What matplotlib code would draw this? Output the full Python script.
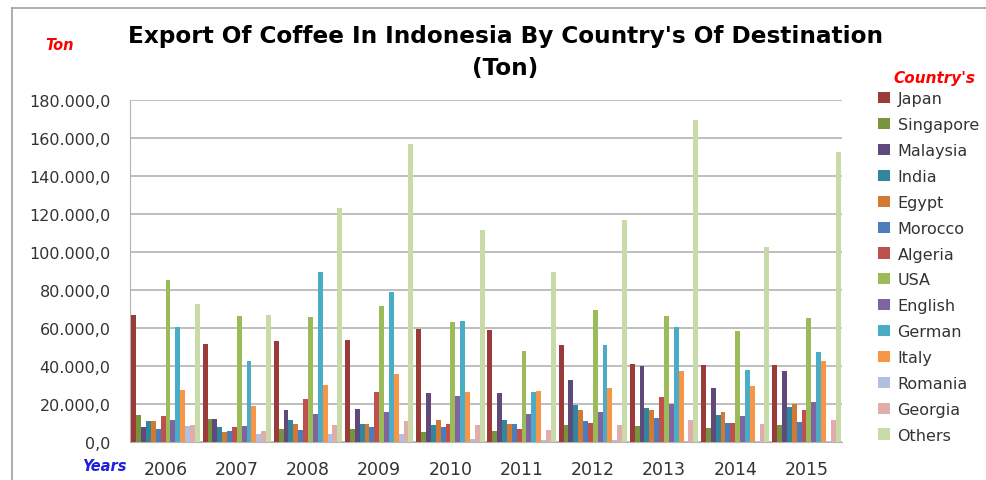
import numpy as np
import matplotlib
matplotlib.use('Agg')
import matplotlib.pyplot as plt
from matplotlib.lines import Line2D
from matplotlib.ticker import FuncFormatter

years = ['2006', '2007', '2008', '2009', '2010', '2011', '2012', '2013', '2014', '2015']
countries = ['Japan', 'Singapore', 'Malaysia', 'India', 'Egypt', 'Morocco', 'Algeria',
             'USA', 'English', 'German', 'Italy', 'Romania', 'Georgia', 'Others']

# export volume in ton, one list per country (2006..2015)
japan     = [67000, 51700, 53100, 53800, 59500, 58800, 51200, 41300, 40500, 40500]
singapore = [14000, 12100, 6800, 6800, 5500, 6000, 8700, 8400, 7300, 8900]
malaysia  = [7800, 12100, 17000, 17500, 25700, 25700, 32600, 40000, 28400, 37500]
india     = [10900, 7900, 11700, 9700, 9100, 11700, 19600, 17700, 14000, 18600]
egypt     = [11200, 5100, 9600, 9700, 11700, 9700, 17000, 17000, 15600, 20200]
morocco   = [7100, 5900, 6400, 7700, 7900, 9700, 10900, 12600, 10100, 10600]
algeria   = [13700, 7900, 22800, 26100, 9600, 6800, 10100, 23500, 10100, 16700]
usa       = [85500, 66300, 65700, 71700, 63000, 48000, 69300, 66300, 58400, 65400]
english   = [11600, 8300, 14600, 15800, 24000, 14600, 15800, 20200, 13800, 20800]
german    = [60500, 42700, 89600, 78800, 63800, 26200, 50800, 60500, 37800, 47600]
italy     = [27200, 19200, 29800, 35600, 26200, 27000, 28400, 37500, 29300, 42700]
romania   = [8400, 4300, 4300, 4300, 1700, 1200, 1200, 500, 300, 300]
georgia   = [9100, 6000, 8800, 10900, 8800, 6300, 8700, 11800, 9700, 11800]
others    = [72500, 66600, 123200, 157000, 111400, 89600, 117000, 169700, 102400, 152500]

series = [japan, singapore, malaysia, india, egypt, morocco, algeria,
          usa, english, german, italy, romania, georgia, others]
colors = ['#9B3B39', '#77933C', '#604A7B', '#31859C', '#D07A35', '#4A7EBB', '#C0504D',
          '#9BBB59', '#8064A2', '#4BACC6', '#F79646', '#B1C0E2', '#E0ADAC', '#C8DAA8']

font = 'DejaVu Sans'
fig = plt.figure(figsize=(9.86, 4.81), dpi=100)
ax = fig.add_axes([130 / 986, 1 - 443 / 481, 712 / 986, 342 / 481])

x = np.arange(len(years))
n = len(series)
group_w = 0.96
bw = group_w / n
for i, (vals, c) in enumerate(zip(series, colors)):
    pos = x - group_w / 2 + bw * (i + 0.5)
    ax.bar(pos, vals, width=bw, color=c, edgecolor='none', label=countries[i], zorder=3)

ax.set_xlim(-0.5, len(years) - 0.5)
ax.set_ylim(0, 180000)
ax.set_yticks(np.arange(0, 180001, 20000))
ax.yaxis.set_major_formatter(FuncFormatter(
    lambda v, p: '{:,.1f}'.format(v).replace(',', 'X').replace('.', ',').replace('X', '.')))
ax.set_xticks(x)
ax.set_xticklabels(years)
ax.tick_params(axis='both', length=0, colors='#333333')
ax.tick_params(axis='y', pad=14, labelsize=11.5)
ax.tick_params(axis='x', pad=13, labelsize=12.5)
ax.grid(axis='y', color='#B3B3B3', linewidth=1.2, zorder=0)
for s in ['top', 'right']:
    ax.spines[s].set_visible(False)
ax.spines['left'].set_color('#B3B3B3')
ax.spines['bottom'].set_color('#B3B3B3')

fig.text(505 / 986, 1 - 37 / 481, "Export Of Coffee In Indonesia By Country's Of Destination",
         ha='center', va='center', fontsize=16.7, fontweight='bold', family=font)
fig.text(505 / 986, 1 - 68 / 481, '(Ton)', ha='center', va='center',
         fontsize=16.7, fontweight='bold', family=font)
fig.text(60 / 986, 1 - 46 / 481, 'Ton', ha='center', va='center', color='#FF0000',
         fontsize=10.5, fontweight='bold', style='italic', family=font)
fig.text(104 / 986, 1 - 467 / 481, 'Years', ha='center', va='center', color='#1F1FE0',
         fontsize=10.5, fontweight='bold', style='italic', family=font)
fig.text(934 / 986, 1 - 78 / 481, "Country's", ha='center', va='center', color='#FF0000',
         fontsize=11, fontweight='bold', style='italic', family=font)

handles, labels = ax.get_legend_handles_labels()
leg = fig.legend(handles, labels, loc='upper left', bbox_to_anchor=(864 / 986, 1 - 78 / 481),
                 frameon=False, handlelength=0.7, handleheight=0.7, handletextpad=0.5,
                 labelspacing=0.68, prop={'family': font, 'size': 11.5})
for t in leg.get_texts():
    t.set_color('#333333')

# outer frame of the chart
fig.add_artist(Line2D([12 / 986, 12 / 986], [0, 1 - 9 / 481], color='#A0A0A0', lw=1.2))
fig.add_artist(Line2D([12 / 986, 1], [1 - 9 / 481, 1 - 9 / 481], color='#A0A0A0', lw=1.2))

fig.savefig('out.png', dpi=100)
